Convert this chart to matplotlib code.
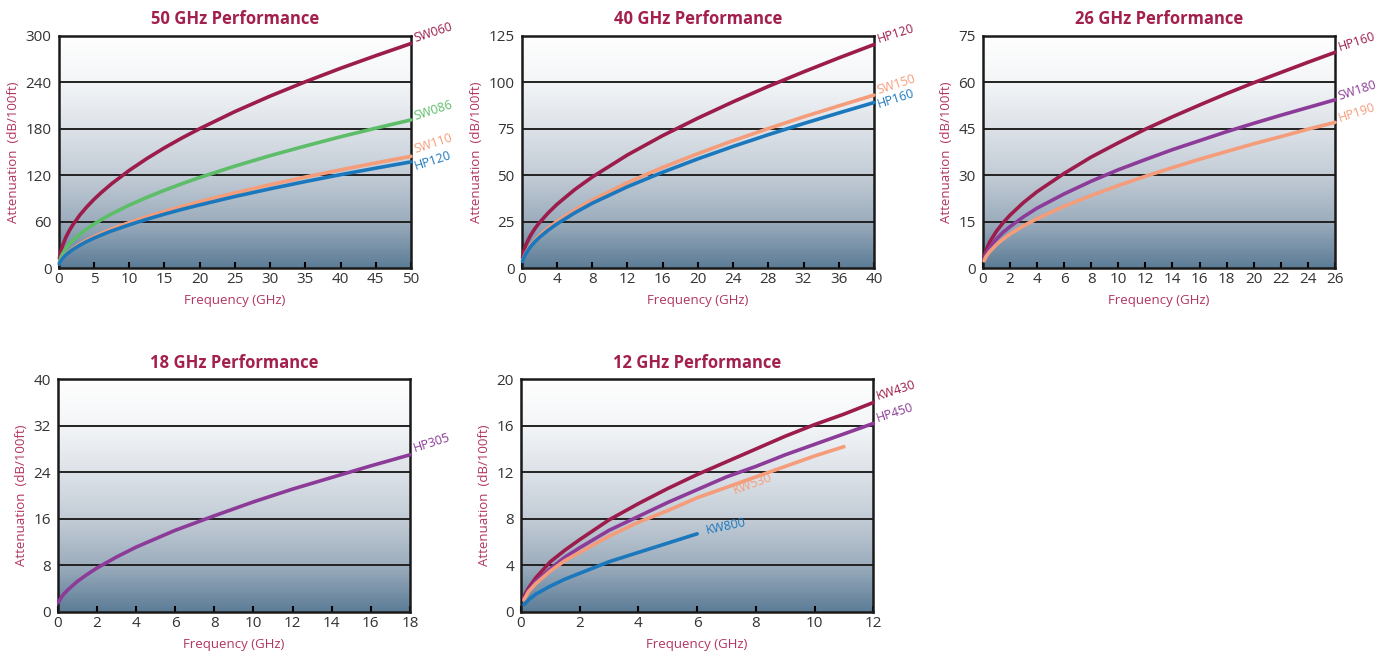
import matplotlib
matplotlib.use("Agg")
import matplotlib.pyplot as plt
import numpy as np
from matplotlib.colors import LinearSegmentedColormap

plt.rcParams['font.family'] = ['Open Sans', 'DejaVu Sans']

# colores
MAROON = '#9c1c4c'
GREEN = '#5dbd68'
PEACH = '#f59c7a'
BLUE = '#1b78bd'
PURPLE = '#8c3b98'
TITLE_C = '#a3204e'
LABEL_C = '#b23462'

# ---- 50 GHz ----
f50 = [0.1, 0.25, 0.5, 1, 1.5, 2, 3, 4, 5, 6, 7.5, 10, 12.5, 15, 17.5, 20, 25, 30,
       35, 40, 45, 50]
sw060 = [12.3, 19.5, 27.6, 39.2, 48.1, 55.6, 68.3, 79.0, 88.5, 97.0, 108.7, 125.9,
         141.2, 155.1, 167.9, 179.8, 201.9, 221.9, 240.4, 257.8, 274.1, 289.8]
sw086 = [7.8, 12.3, 17.5, 24.9, 30.5, 35.4, 43.5, 50.4, 56.6, 62.2, 69.8, 81.1,
         91.1, 100.3, 108.8, 116.8, 131.5, 145.0, 157.5, 169.4, 180.5, 191.2]
sw110 = [5.4, 8.6, 12.3, 17.5, 21.5, 25.0, 30.9, 35.9, 40.4, 44.5, 50.2, 58.6,
         66.1, 73.0, 79.5, 85.6, 97.0, 107.5, 117.4, 126.7, 135.6, 144.2]
hp120_50 = [5.2, 8.2, 11.7, 16.7, 20.5, 23.8, 29.4, 34.2, 38.5, 42.4, 47.8, 55.7,
            62.9, 69.5, 75.7, 81.4, 92.3, 102.2, 111.6, 120.5, 128.9, 137.0]

# ---- 40 GHz ----
f40 = [0.1, 0.25, 0.5, 1, 1.5, 2, 3, 4, 6, 8, 12, 16, 20, 24, 28, 32, 36, 40]
hp120_40 = [5.5, 9.0, 12.8, 17.5, 21.2, 24.3, 29.6, 34.2, 42.1, 48.9, 60.8, 71.2,
            80.6, 89.4, 97.7, 105.5, 113.0, 120.2]
sw150 = [3.7, 5.9, 8.4, 12.0, 14.8, 17.3, 21.4, 25.0, 31.2, 36.5, 45.9, 54.1,
         61.5, 68.5, 75.0, 81.3, 87.2, 93.0]
hp160_40 = [3.5, 5.6, 7.9, 11.4, 14.1, 16.4, 20.3, 23.7, 29.6, 34.8, 43.7, 51.5,
            58.7, 65.4, 71.7, 77.7, 83.4, 89.0]

# ---- 26 GHz ----
f26 = [0.1, 0.25, 0.5, 1, 1.5, 2, 3, 4, 6, 8, 10, 12, 14, 16, 18, 20, 22, 24, 26]
hp160_26 = [3.6, 5.8, 8.3, 11.8, 14.6, 17.0, 21.1, 24.6, 30.5, 35.8, 40.4, 44.8,
            48.8, 52.6, 56.3, 59.8, 63.1, 66.4, 69.6]
sw180 = [2.9, 4.6, 6.5, 9.3, 11.5, 13.3, 16.5, 19.3, 23.9, 28.0, 31.7, 35.0,
         38.2, 41.1, 44.0, 46.7, 49.3, 51.8, 54.3]
hp190 = [2.3, 3.7, 5.2, 7.5, 9.3, 10.9, 13.6, 15.9, 19.9, 23.4, 26.6, 29.6,
         32.4, 35.1, 37.6, 40.1, 42.4, 44.8, 47.0]

# ---- 18 GHz ----
f18 = [0.05, 0.1, 0.25, 0.5, 1, 1.5, 2, 3, 4, 6, 8, 10, 12, 14, 16, 18]
hp305 = [1.6, 2.0, 2.8, 3.7, 5.2, 6.4, 7.5, 9.4, 11.1, 14.0, 16.5, 18.9, 21.1,
         23.1, 25.1, 27.0]

# ---- 12 GHz ----
f12 = [0.1, 0.25, 0.5, 1, 1.5, 2, 3, 4, 5, 6, 7, 8, 9, 10, 11, 12]
kw430 = [1.3, 2.0, 2.9, 4.3, 5.3, 6.2, 7.9, 9.3, 10.6, 11.8, 12.9, 14.0, 15.1,
         16.1, 17.0, 18.0]
hp450 = [1.1, 1.8, 2.6, 3.7, 4.7, 5.5, 7.0, 8.2, 9.4, 10.5, 11.6, 12.5, 13.5,
         14.4, 15.3, 16.2]
f12b = [0.1, 0.25, 0.5, 1, 1.5, 2, 3, 4, 5, 6, 7, 8, 9, 10, 11]
kw530 = [1.0, 1.7, 2.4, 3.5, 4.4, 5.1, 6.5, 7.7, 8.7, 9.8, 10.7, 11.6, 12.5, 13.4, 14.2]
f12c = [0.1, 0.25, 0.5, 1, 1.5, 2, 3, 4, 5, 6]
kw800 = [0.6, 1.0, 1.5, 2.2, 2.8, 3.3, 4.3, 5.1, 5.9, 6.7]

# fondo degradado (abajo -> arriba)
grad = LinearSegmentedColormap.from_list('fondo', [
    (0.0, '#5c7c96'), (0.2, '#9cadbd'), (0.4, '#c3ccd6'),
    (0.6, '#dde2e8'), (0.8, '#f3f5f7'), (1.0, '#ffffff')])

fig = plt.figure(figsize=(13.9, 6.51), dpi=100)
W, H = 0.2535, 0.357
posiciones = [(0.0422, 0.5883), (0.3753, 0.5883), (0.7070, 0.5883),
              (0.0415, 0.0604), (0.3748, 0.0604)]


def panel(pos, titulo, xmax, xstep, ymax, ystep):
    ax = fig.add_axes([pos[0], pos[1], W, H])
    ax.imshow(np.linspace(0, 1, 256).reshape(-1, 1), cmap=grad, origin='lower',
              aspect='auto', extent=[0, xmax, 0, ymax], zorder=0)
    ax.set_xlim(0, xmax)
    ax.set_ylim(0, ymax)
    ax.set_xticks(np.arange(0, xmax + 0.01, xstep))
    ax.set_yticks(np.arange(0, ymax + 0.01, ystep))
    for yv in np.arange(ystep, ymax, ystep):
        ax.axhline(yv, color='#222222', lw=1.4, zorder=1)
    for s in ax.spines.values():
        s.set_linewidth(1.8)
        s.set_color('#1a1a1a')
    ax.tick_params(axis='x', direction='in', length=4, width=1.5, labelsize=11,
                   labelcolor='#333333', pad=3)
    ax.tick_params(axis='y', length=0, labelsize=11, labelcolor='#333333', pad=5)
    ax.set_title(titulo, fontsize=12, fontweight='bold', color=TITLE_C, pad=8)
    ax.set_xlabel('Frequency (GHz)', fontsize=9.5, color=LABEL_C, labelpad=5)
    ax.set_ylabel('Attenuation  (dB/100ft)', fontsize=9.5, color=LABEL_C, labelpad=4)
    return ax


def curva(ax, x, y, color, nombre, dx=4, dy=0, rot=18, lw=2.6):
    ax.plot(x, y, color=color, lw=lw, solid_capstyle='round', zorder=3, clip_on=False)
    ax.annotate(nombre, (x[-1], y[-1]), xytext=(dx, dy), textcoords='offset points',
                color=color, fontsize=9, rotation=rot, rotation_mode='anchor',
                ha='left', va='bottom', annotation_clip=False)


ax1 = panel(posiciones[0], '50 GHz Performance', 50, 5, 300, 60)
curva(ax1, f50, sw060, MAROON, 'SW060', dy=-1)
curva(ax1, f50, sw086, GREEN, 'SW086', dy=-2)
curva(ax1, f50, sw110, PEACH, 'SW110', dy=0)
curva(ax1, f50, hp120_50, BLUE, 'HP120', dy=-8)

ax2 = panel(posiciones[1], '40 GHz Performance', 40, 4, 125, 25)
curva(ax2, f40, hp120_40, MAROON, 'HP120', dy=-1)
curva(ax2, f40, sw150, PEACH, 'SW150', dy=-1)
curva(ax2, f40, hp160_40, BLUE, 'HP160', dy=-6)

ax3 = panel(posiciones[2], '26 GHz Performance', 26, 2, 75, 15)
curva(ax3, f26, hp160_26, MAROON, 'HP160', dy=-1)
curva(ax3, f26, sw180, PURPLE, 'SW180', dy=-2)
curva(ax3, f26, hp190, PEACH, 'HP190', dy=-2)

ax4 = panel(posiciones[3], '18 GHz Performance', 18, 2, 40, 8)
curva(ax4, f18, hp305, PURPLE, 'HP305', dy=0)

ax5 = panel(posiciones[4], '12 GHz Performance', 12, 2, 20, 4)
curva(ax5, f12, kw430, MAROON, 'KW430', dy=0)
curva(ax5, f12, hp450, PURPLE, 'HP450', dy=-1)
ax5.plot(f12b, kw530, color=PEACH, lw=2.6, solid_capstyle='round', zorder=3)
ax5.text(7.3, 9.9, 'KW530', color=PEACH, fontsize=9, rotation=20,
         rotation_mode='anchor', ha='left', va='bottom', zorder=4)
curva(ax5, f12c, kw800, BLUE, 'KW800', dx=7, dy=-2, rot=12)

fig.savefig('out.png', dpi=100)
